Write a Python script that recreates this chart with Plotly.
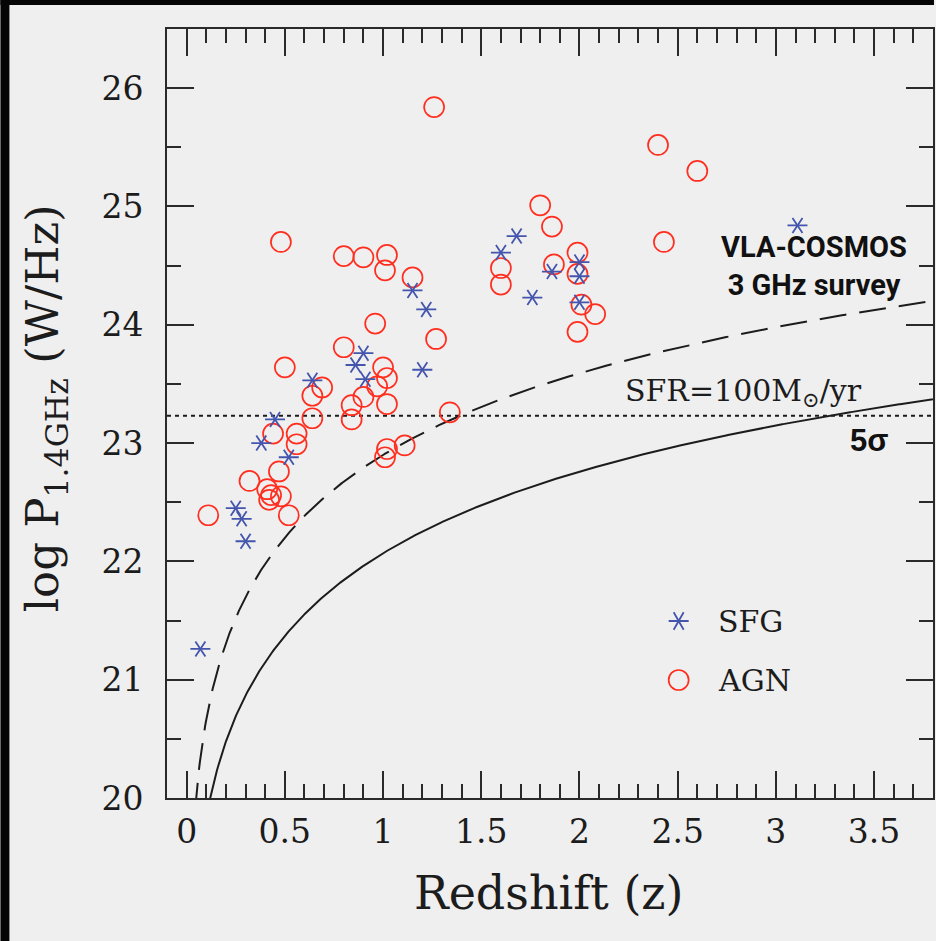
import numpy as np
import plotly.graph_objects as go

# ---- sources: redshift and log radio power at 1.4 GHz ----
sfg_z = [0.07, 0.25, 0.28, 0.30, 0.38, 0.45, 0.52, 0.64, 0.86, 0.90, 0.91,
         1.15, 1.22, 1.20, 1.60, 1.68, 1.76, 1.86, 2.00, 2.00, 2.00, 3.11]
sfg_logp = [21.26, 22.45, 22.36, 22.17, 23.00, 23.20, 22.88, 23.53, 23.66, 23.76, 23.54,
            24.29, 24.13, 23.62, 24.61, 24.75, 24.23, 24.45, 24.53, 24.41, 24.19, 24.84]

agn_z = [1.26, 2.40, 2.60, 1.80, 1.86, 0.48, 2.43, 0.80, 0.90, 1.02, 1.01, 1.15,
         1.60, 1.60, 1.87, 1.99, 1.99, 2.01, 2.08, 1.99, 0.96, 1.27, 0.80, 0.50,
         1.00, 1.02, 0.69, 0.64, 0.97, 0.90, 0.84, 1.02, 0.64, 0.84, 1.34, 0.44,
         0.56, 0.56, 1.02, 1.01, 1.11, 0.47, 0.32, 0.41, 0.43, 0.48, 0.42, 0.52, 0.11]
agn_logp = [25.84, 25.52, 25.30, 25.01, 24.83, 24.70, 24.70, 24.58, 24.57, 24.59, 24.46, 24.40,
            24.48, 24.34, 24.51, 24.61, 24.43, 24.17, 24.09, 23.94, 24.01, 23.88, 23.81, 23.64,
            23.64, 23.55, 23.47, 23.40, 23.48, 23.39, 23.32, 23.33, 23.21, 23.20, 23.26, 23.08,
            23.08, 22.99, 22.95, 22.88, 22.98, 22.76, 22.68, 22.61, 22.56, 22.55, 22.52, 22.39, 22.39]

# horizontal 5-sigma power level and flux limits (microJy) of the curves
LOGP_5SIGMA = 23.23
S_DASHED_UJY = 18.7
S_SOLID_UJY = 2.76

# ---- cosmology for the detection-limit curves ----
H0, OM, OL = 70.0, 0.3, 0.7
C_KMS = 299792.458
MPC_M = 3.0857e22
ALPHA = 0.7


def lum_dist_m(z):
    zg = np.linspace(0.0, float(np.max(z)), 20000)
    inv_e = 1.0 / np.sqrt(OM * (1 + zg) ** 3 + OL)
    dc = np.concatenate([[0.0], np.cumsum(0.5 * (inv_e[1:] + inv_e[:-1]) * np.diff(zg))])
    dc *= C_KMS / H0
    return np.interp(z, zg, dc) * (1 + z) * MPC_M


def log_power(z, s_ujy):
    dl = lum_dist_m(z)
    return np.log10(4 * np.pi * dl ** 2 * s_ujy * 1e-32 * (1 + z) ** (ALPHA - 1))


z_curve = np.linspace(0.02, 3.9, 900)

SERIF = "DejaVu Serif, Liberation Serif, serif"
BG = "#efefef"
INK = "#1c1c1c"
BLUE = "#4455ad"
RED = "#ff2e1f"

W, H = 936, 941
ML, MR, MT, MB = 167, 1, 29, 143
PW, PH = W - ML - MR, H - MT - MB


def px(x):
    return (x - ML) / PW


def py(y):
    return (H - MB - y) / PH


fig = go.Figure()

fig.add_trace(go.Scatter(x=z_curve, y=log_power(z_curve, S_DASHED_UJY), mode="lines",
                         line=dict(color=INK, width=2, dash="27px,13px"),
                         showlegend=False, hoverinfo="skip"))
fig.add_trace(go.Scatter(x=z_curve, y=log_power(z_curve, S_SOLID_UJY), mode="lines",
                         line=dict(color=INK, width=2),
                         showlegend=False, hoverinfo="skip"))

fig.add_trace(go.Scatter(x=agn_z, y=agn_logp, mode="markers", name="AGN",
                         marker=dict(symbol="circle-open", size=20, color=RED,
                                     line=dict(color=RED, width=1.7)),
                         showlegend=False))
# six-armed star built from two mirrored "y" symbols
for sym in ("y-left-open", "y-right-open"):
    fig.add_trace(go.Scatter(x=sfg_z, y=sfg_logp, mode="markers", name="SFG",
                             marker=dict(symbol=sym, size=12.5, color=BLUE,
                                         line=dict(color=BLUE, width=1.8)),
                             showlegend=False))

shapes = [
    dict(type="line", xref="paper", x0=0, x1=1, yref="y", y0=LOGP_5SIGMA, y1=LOGP_5SIGMA,
         line=dict(color=INK, width=2, dash="4px,4px"), layer="below"),
    # dark frame strips along the top and left edges of the page
    dict(type="rect", xref="paper", yref="paper", x0=px(0), x1=px(W), y0=py(5), y1=py(0),
         fillcolor="#050505", line=dict(width=0), layer="above"),
    dict(type="rect", xref="paper", yref="paper", x0=px(0), x1=px(9), y0=py(H), y1=py(0),
         fillcolor="#050505", line=dict(width=0), layer="above"),
]

# legend keys
leg_x = px(680)
star_y, circ_y = py(621), py(680)
shapes.append(dict(type="path", xref="paper", yref="paper", xsizemode="pixel", ysizemode="pixel",
                   xanchor=leg_x, yanchor=star_y,
                   path="M-10,0L10,0M-5,-8.7L5,8.7M-5,8.7L5,-8.7",
                   line=dict(color=BLUE, width=1.8)))
shapes.append(dict(type="circle", xref="paper", yref="paper", xsizemode="pixel", ysizemode="pixel",
                   xanchor=leg_x, yanchor=circ_y, x0=-10, x1=10, y0=-10, y1=10,
                   line=dict(color=RED, width=1.7)))

annotations = [
    dict(text="SFG", x=px(717), y=star_y, xref="paper", yref="paper", xanchor="left",
         yanchor="middle", showarrow=False, font=dict(family=SERIF, size=30, color=INK)),
    dict(text="AGN", x=px(717), y=circ_y, xref="paper", yref="paper", xanchor="left",
         yanchor="middle", showarrow=False, font=dict(family=SERIF, size=30, color=INK)),
    dict(text="VLA-COSMOS<br>3 GHz survey", x=px(816), y=py(266),
         xref="paper", yref="paper", xanchor="center", yanchor="middle", showarrow=False,
         font=dict(family="Roboto, Liberation Sans, sans-serif", size=29, color="#111",
                   weight="bold")),
    dict(text="SFR=100M<sub>⊙</sub>/yr", x=px(745), y=py(392), xref="paper", yref="paper",
         xanchor="center", yanchor="middle", showarrow=False,
         font=dict(family=SERIF, size=30, color=INK)),
    dict(text="<b>5σ</b>", x=px(871), y=py(440), xref="paper", yref="paper",
         xanchor="center", yanchor="middle", showarrow=False,
         font=dict(family="Liberation Sans, Arial, sans-serif", size=31, color="#111")),
    dict(text="Redshift (z)", x=px(550), y=py(893), xref="paper", yref="paper",
         xanchor="center", yanchor="middle", showarrow=False,
         font=dict(family=SERIF, size=46, color=INK)),
    dict(text="log P<sub>1.4GHz</sub> (W/Hz)", x=px(45), y=py(408), xref="paper", yref="paper",
         xanchor="center", yanchor="middle", textangle=-90, showarrow=False,
         font=dict(family=SERIF, size=45, color=INK)),
]

axis_common = dict(showgrid=False, zeroline=False, showline=True, linecolor="#2a2a2a",
                   linewidth=2, mirror="allticks", ticks="inside", tickcolor="#2a2a2a",
                   tickwidth=2, ticklen=27,
                   tickfont=dict(family=SERIF, size=33, color=INK))

fig.update_layout(
    width=W, height=H,
    margin=dict(l=ML, r=MR, t=MT, b=MB),
    paper_bgcolor=BG, plot_bgcolor=BG,
    xaxis=dict(range=[-0.1, 3.8], tickvals=[0, 0.5, 1, 1.5, 2, 2.5, 3, 3.5],
               ticktext=["0", "0.5", "1", "1.5", "2", "2.5", "3", "3.5"],
               minor=dict(dtick=0.1, tick0=0, ticks="inside", ticklen=14,
                          tickcolor="#2a2a2a", tickwidth=2),
               ticklabelstandoff=3, **axis_common),
    yaxis=dict(range=[20, 26.5], tickvals=[20, 21, 22, 23, 24, 25, 26],
               minor=dict(dtick=0.5, tick0=20, ticks="inside", ticklen=14,
                          tickcolor="#2a2a2a", tickwidth=2),
               ticklabelstandoff=15, **axis_common),
    shapes=shapes,
    annotations=annotations,
    showlegend=False,
)

fig.write_html("out.html")
